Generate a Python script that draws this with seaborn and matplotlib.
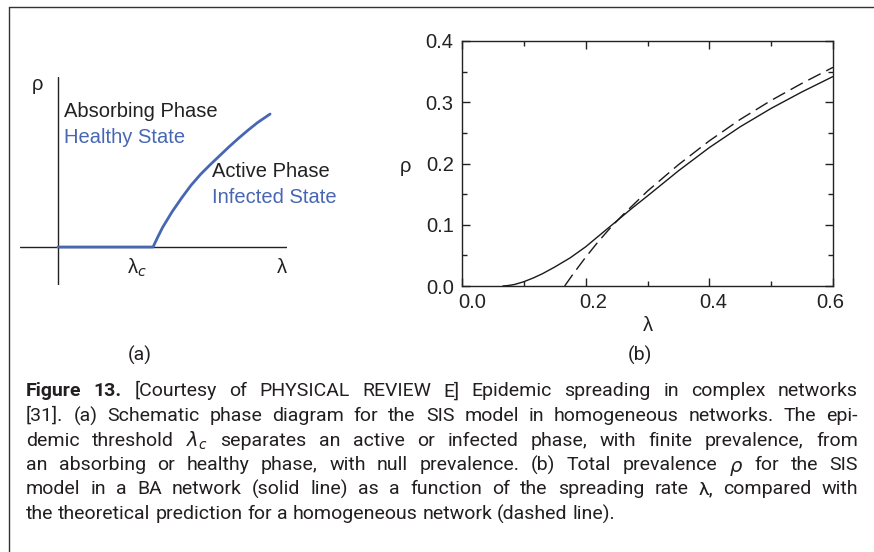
import matplotlib
matplotlib.use("Agg")
import matplotlib.pyplot as plt
import seaborn as sns
import pandas as pd
from matplotlib.ticker import MultipleLocator, FixedLocator
from matplotlib.lines import Line2D
from matplotlib.transforms import ScaledTranslation

# ---------------- data ----------------
# (b) BA network simulation (solid) and homogeneous prediction (dashed)
ba_lambda = [0.066, 0.075, 0.085, 0.10, 0.115, 0.13, 0.15, 0.175, 0.20, 0.225,
             0.25, 0.275, 0.30, 0.35, 0.40, 0.45, 0.50, 0.55, 0.60]
ba_rho = [0.0, 0.0008, 0.0025, 0.007, 0.013, 0.020, 0.031, 0.046, 0.064, 0.085,
          0.106, 0.127, 0.147, 0.188, 0.226, 0.260, 0.290, 0.317, 0.342]
hom_lambda = [0.166, 0.18, 0.20, 0.22, 0.24, 0.26, 0.30, 0.35, 0.40, 0.45, 0.50, 0.55, 0.60]
hom_rho = [0.0, 0.020, 0.047, 0.072, 0.095, 0.116, 0.155, 0.198, 0.237, 0.272, 0.303,
           0.331, 0.357]

x_ticks = [0.0, 0.2, 0.4, 0.6]
x_tick_labels = ["0.0", "0.2", "0.4", "0.6"]
y_ticks = [0.0, 0.1, 0.2, 0.3, 0.4]
y_tick_labels = ["0.0", "0.1", "0.2", "0.3", "0.4"]

# (a) schematic phase diagram (lambda in units of lambda_c)
schem_lambda = [0.0, 1.0, 1.05, 1.1, 1.2, 1.3, 1.4, 1.5, 1.6, 1.7, 1.8, 1.9, 2.0, 2.1, 2.232]
schem_rho = [0.0, 0.0, 0.105, 0.205, 0.37, 0.515, 0.65, 0.765, 0.865, 0.96, 1.055,
             1.145, 1.23, 1.31, 1.40]

caption_lines = [
    [("Figure", True), ("13.", True), ("[Courtesy", False), ("of", False), ("PHYSICAL", False),
     ("REVIEW", False), ("E]", False), ("Epidemic", False), ("spreading", False), ("in", False),
     ("complex", False), ("networks", False)],
    "[31]. (a) Schematic phase diagram for the SIS model in homogeneous networks. The epi-",
    r"demic threshold $\lambda_c$ separates an active or infected phase, with finite prevalence, from",
    r"an absorbing or healthy phase, with null prevalence. (b) Total prevalence $\rho$ for the SIS",
    "model in a BA network (solid line) as a function of the spreading rate λ, compared with",
    "the theoretical prediction for a homogeneous network (dashed line).",
]

# ---------------- style ----------------
sns.set_theme(style="ticks")
plt.rcParams["font.family"] = ["Liberation Sans", "DejaVu Sans"]
plt.rcParams["mathtext.fontset"] = "dejavusans"

W, H = 874, 552
fig = plt.figure(figsize=(W / 100, H / 100), dpi=100)
fig.patch.set_facecolor("white")

def fx(px):
    return px / W

def fy(py):
    return 1 - py / H

BLUE = "#4767b3"
INK = "#231f20"

# frame (left + top)
fig.add_artist(Line2D([fx(9), fx(9)], [fy(7), fy(552)], color="#333333", lw=1.0))
fig.add_artist(Line2D([fx(9), fx(874)], [fy(7), fy(7)], color="#333333", lw=1.0))

# ---------------- panel (a) ----------------
L, R, T, B = 20, 287, 77, 285
axa = fig.add_axes([fx(L), fy(B), (R - L) / W, (B - T) / H])
axa.set_xlim(-0.40, 2.41)
axa.set_ylim(-0.40, 1.79)
axa.axis("off")
axa.axhline(0, color="#222222", lw=1.0)
axa.axvline(0, color="#222222", lw=1.0)
df_s = pd.DataFrame({"lam": schem_lambda, "rho": schem_rho})
sns.lineplot(data=df_s, x="lam", y="rho", ax=axa, color=BLUE, lw=2.0,
             sort=False, estimator=None)
axa.lines[-1].set_solid_joinstyle("round")
axa.set_xlabel("")
axa.set_ylabel("")
fs = 14.5
axa.text(-0.22, 1.71, "ρ", fontsize=fs, color="#222222", ha="center", va="center")
axa.text(0.065, 1.43, "Absorbing Phase", fontsize=fs, color="#222222", ha="left", va="center")
axa.text(0.065, 1.155, "Healthy State", fontsize=fs, color=BLUE, ha="left", va="center")
axa.text(1.62, 0.79, "Active Phase", fontsize=fs, color="#222222", ha="left", va="center")
axa.text(1.62, 0.52, "Infected State", fontsize=fs, color=BLUE, ha="left", va="center")
axa.text(0.83, -0.22, r"λ$_{c}$", fontsize=fs, color="#222222", ha="center", va="center")
axa.text(2.36, -0.22, "λ", fontsize=fs, color="#222222", ha="center", va="center")

# ---------------- panel (b) ----------------
L, R, T, B = 462, 833, 41, 286
axb = fig.add_axes([fx(L), fy(B), (R - L) / W, (B - T) / H])
df_ba = pd.DataFrame({"lam": ba_lambda, "rho": ba_rho})
df_h = pd.DataFrame({"lam": hom_lambda, "rho": hom_rho})
sns.lineplot(data=df_ba, x="lam", y="rho", ax=axb, color="#1a1a1a", lw=1.0,
             sort=False, estimator=None)
sns.lineplot(data=df_h, x="lam", y="rho", ax=axb, color="#1a1a1a", lw=1.0,
             sort=False, estimator=None, linestyle=(0, (10, 4.5)))
axb.set_xlim(0, 0.6)
axb.set_ylim(0, 0.4)
axb.xaxis.set_major_locator(FixedLocator(x_ticks))
axb.set_xticklabels(x_tick_labels)
axb.yaxis.set_major_locator(FixedLocator(y_ticks))
axb.set_yticklabels(y_tick_labels)
axb.xaxis.set_minor_locator(MultipleLocator(0.1))
axb.yaxis.set_minor_locator(MultipleLocator(0.05))
axb.tick_params(which="both", direction="in", top=True, right=True, color="#222222",
                width=1.0)
axb.tick_params(which="major", length=6, labelsize=14.5, labelcolor="#222222")
axb.tick_params(which="minor", length=3.5)
axb.tick_params(axis="x", which="major", pad=5)
axb.tick_params(axis="y", which="major", pad=6)
for s in axb.spines.values():
    s.set_color("#222222")
    s.set_linewidth(1.0)
axb.set_xlabel("λ", fontsize=14.5, color="#222222", labelpad=3)
axb.set_ylabel("")
fig.text(fx(405), fy(167), "ρ", fontsize=14.5, color="#222222", ha="center", va="center")
# small horizontal offsets of x tick labels, as in the original typesetting
for tick, dx in zip(axb.xaxis.get_major_ticks(), [10, 8, 4, -3]):
    lab = tick.label1
    lab.set_transform(lab.get_transform() + ScaledTranslation(dx / 100, 0, fig.dpi_scale_trans))

# ---------------- panel labels + caption ----------------
CAP_FONT = ["Roboto", "DejaVu Sans"]
cap_fs = 14.0
fig.text(fx(140), fy(361), "(a)", fontsize=cap_fs, family=CAP_FONT, color=INK,
         ha="center", va="baseline")
fig.text(fx(640), fy(361), "(b)", fontsize=cap_fs, family=CAP_FONT, color=INK,
         ha="center", va="baseline")

renderer = fig.canvas.get_renderer()

def descent(t):
    s, ismath = t._preprocess_math(t.get_text())
    return renderer.get_text_width_height_descent(s, t.get_fontproperties(), ismath=ismath)[2]

x_left, x_right = 26, 858
line_base = [396.5, 421, 445.5, 470, 494.5, 519]
for i, line in enumerate(caption_lines):
    if isinstance(line, str):
        tokens = [(w, False) for w in line.split(" ")]
    else:
        tokens = line
    texts = []
    widths = []
    shifts = []
    for w, bold in tokens:
        t = fig.text(0, fy(line_base[i]), w, fontsize=cap_fs, family=CAP_FONT,
                     weight="bold" if bold else "normal", color=INK,
                     ha="left", va="baseline")
        ref = fig.text(0, 0, "lp", fontsize=cap_fs, family=CAP_FONT,
                       weight="bold" if bold else "normal")
        extra = max(0.0, descent(t) - descent(ref))
        ref.remove()
        bb = t.get_window_extent(renderer)
        texts.append(t)
        widths.append(bb.width)
        shifts.append(extra)
    last = i == len(caption_lines) - 1
    if last or len(tokens) < 2:
        sp = fig.text(0, 0, "a b", fontsize=cap_fs, family=CAP_FONT)
        w1 = sp.get_window_extent(renderer).width
        sp.set_text("ab")
        w2 = sp.get_window_extent(renderer).width
        sp.remove()
        gap = w1 - w2
    else:
        gap = (x_right - x_left - sum(widths)) / (len(tokens) - 1)
    x = x_left
    for t, w, e in zip(texts, widths, shifts):
        t.set_position((fx(x), fy(line_base[i] + e)))
        x += w + gap

fig.savefig("out.png", dpi=100, facecolor="white")
